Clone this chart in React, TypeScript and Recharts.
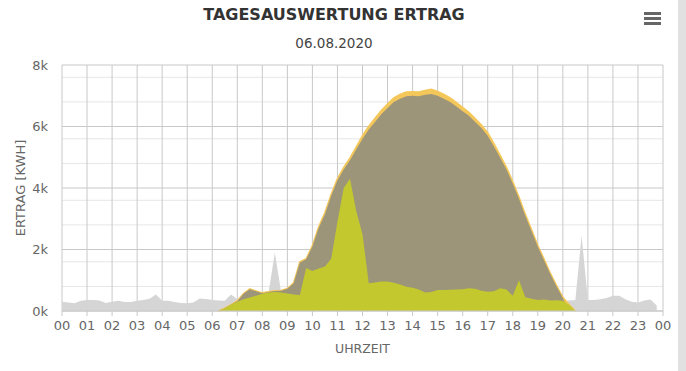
import { Area, AreaChart, CartesianGrid, XAxis, YAxis } from "recharts";

// 15-minute slots, 00:00 .. 24:00
const hours = Array.from({ length: 97 }, (_, i) => i / 4);
const hourTicks = [0, 1, 2, 3, 4, 5, 6, 7, 8, 9, 10, 11, 12, 13, 14, 15, 16, 17, 18, 19, 20, 21, 22, 23, 24];
const yTicks = [0, 2000, 4000, 6000, 8000];
const minorTicks = [400, 800, 1200, 1600, 2400, 2800, 3200, 3600, 4400, 4800, 5200, 5600, 6400, 6800, 7200, 7600];

// Verbrauch
const verbrauch = [
  300, 280, 250, 330, 360, 360, 340, 260, 300, 330, 290, 290, 330, 360, 400, 540,
  330, 330, 290, 260, 250, 280, 410, 390, 360, 340, 330, 540, 380, 420, 500, 520,
  560, 600, 1900, 620, 600, 560, 540, 1400, 1300, 1380, 1450, 1700, 2900, 4000, 4300, 3250,
  2500, 900, 930, 960, 960, 920, 860, 790, 760, 700, 600, 620, 680, 680, 690, 700,
  710, 740, 720, 660, 630, 640, 740, 700, 500, 1000, 450, 400, 360, 370, 340, 350,
  330, 340, 360, 2450, 360, 360, 380, 420, 500, 500, 380, 300, 280, 340, 370, 180,
  null,
];

const N = null;
const night = [N, N, N, N, N, N, N, N, N, N, N, N, N, N, N, N, N, N, N, N, N, N, N, N, N];
const lateNight = [N, N, N, N, N, N, N, N, N, N, N, N, N, N];

// Ertrag (Produktion), 06:15 .. 20:30
const ertrag = [
  ...night,
  0, 90, 210, 330, 570, 720, 650, 590, 630, 660, 670, 730, 920, 1600, 1700, 2130,
  2740, 3200, 3800, 4310, 4670, 4980, 5340, 5700, 6010, 6270, 6520, 6730, 6930, 7040, 7120, 7130,
  7120, 7170, 7210, 7140, 7040, 6930, 6780, 6620, 6460, 6260, 6050, 5800, 5440, 5060, 4670, 4210,
  3710, 3150, 2650, 2140, 1690, 1230, 830, 450, 210, 0,
  ...lateNight,
];

// Einspeisung + Eigenverbrauch
const einspeisung = [
  ...night,
  0, 80, 200, 320, 560, 710, 640, 580, 620, 650, 660, 720, 900, 1580, 1680, 2100,
  2700, 3150, 3750, 4250, 4600, 4900, 5250, 5600, 5900, 6150, 6400, 6600, 6800, 6900, 6980, 7000,
  6980, 7030, 7060, 7000, 6900, 6800, 6650, 6500, 6350, 6150, 5950, 5700, 5350, 4980, 4600, 4150,
  3650, 3100, 2600, 2100, 1650, 1200, 800, 420, 0, 0,
  ...lateNight,
];

// Eigenverbrauch
const eigenverbrauch = [
  ...night,
  0, 80, 200, 300, 380, 440, 500, 560, 600, 620, 600, 570, 540, 520, 1400, 1300,
  1380, 1450, 1700, 2900, 4000, 4300, 3250, 2500, 900, 930, 960, 960, 920, 860, 790, 760,
  700, 600, 620, 680, 680, 690, 700, 710, 740, 720, 660, 630, 640, 740, 700, 500,
  1000, 450, 400, 360, 370, 340, 350, 330, 200, 0,
  ...lateNight,
];

const data = hours.map((t, i) => ({
  t,
  verbrauch: verbrauch[i],
  ertrag: ertrag[i],
  einspeisung: einspeisung[i],
  eigenverbrauch: eigenverbrauch[i],
}));

const font = "'DejaVu Sans', sans-serif";

const fmtHour = (v: number) => String(v % 24).padStart(2, "0");
const fmtK = (v: number) => `${v / 1000}k`;

export default function App() {
  return (
    <div
      style={{
        position: "absolute",
        top: 0,
        left: 0,
        width: 686,
        height: 371,
        background: "#fff",
        fontFamily: font,
        overflow: "hidden",
      }}
    >
      <div
        style={{
          position: "absolute",
          top: 5,
          left: 0,
          width: 668,
          textAlign: "center",
          fontSize: 16,
          fontWeight: "bold",
          color: "#333",
        }}
      >
        TAGESAUSWERTUNG ERTRAG
      </div>
      <div
        style={{
          position: "absolute",
          top: 35,
          left: 0,
          width: 668,
          textAlign: "center",
          fontSize: 13.5,
          color: "#444",
        }}
      >
        06.08.2020
      </div>
      {[12, 17, 22].map((y) => (
        <div
          key={y}
          style={{
            position: "absolute",
            left: 644,
            top: y,
            width: 17,
            height: 3,
            background: "#666",
          }}
        />
      ))}
      <div
        style={{
          position: "absolute",
          left: 678,
          top: 0,
          width: 8,
          height: 371,
          background: "#e1e1e1",
        }}
      />
      <div
        style={{
          position: "absolute",
          left: 20,
          top: 188,
          transform: "translate(-50%, -50%) rotate(-90deg)",
          whiteSpace: "nowrap",
          fontSize: 13,
          color: "#666",
        }}
      >
        ERTRAG [KWH]
      </div>
      <div
        style={{
          position: "absolute",
          left: 62,
          width: 601,
          top: 341,
          textAlign: "center",
          fontSize: 12.5,
          color: "#666",
        }}
      >
        UHRZEIT
      </div>
      <AreaChart
        width={686}
        height={371}
        data={data}
        margin={{ top: 65, right: 23, bottom: 30, left: 14 }}
      >
        <CartesianGrid
          vertical={false}
          horizontalValues={minorTicks}
          stroke="#e6e6e6"
          strokeDasharray=""
        />
        <CartesianGrid stroke="#c8c8c8" strokeDasharray="" />
        <XAxis
          dataKey="t"
          type="number"
          domain={[0, 24]}
          ticks={hourTicks}
          tickFormatter={fmtHour}
          interval={0}
          height={30}
          tickSize={5}
          tickMargin={5}
          tickLine={{ stroke: "#c8c8c8" }}
          axisLine={{ stroke: "#c8c8c8" }}
          tick={{ fill: "#666", fontSize: 13 }}
        />
        <YAxis
          type="number"
          domain={[0, 8000]}
          ticks={yTicks}
          tickFormatter={fmtK}
          width={48}
          tickSize={0}
          tickMargin={14}
          tickLine={false}
          axisLine={false}
          tick={{ fill: "#666", fontSize: 13 }}
        />
        <Area
          type="linear"
          dataKey="verbrauch"
          stroke="none"
          fill="#d5d5d5"
          fillOpacity={1}
          isAnimationActive={false}
          connectNulls={false}
        />
        <Area
          type="linear"
          dataKey="ertrag"
          stroke="#f4c75a"
          strokeWidth={1.5}
          fill="#f4c75a"
          fillOpacity={1}
          isAnimationActive={false}
        />
        <Area
          type="linear"
          dataKey="einspeisung"
          stroke="none"
          fill="#9c9579"
          fillOpacity={1}
          isAnimationActive={false}
        />
        <Area
          type="linear"
          dataKey="eigenverbrauch"
          stroke="none"
          fill="#c2c82e"
          fillOpacity={1}
          isAnimationActive={false}
        />
      </AreaChart>
    </div>
  );
}
